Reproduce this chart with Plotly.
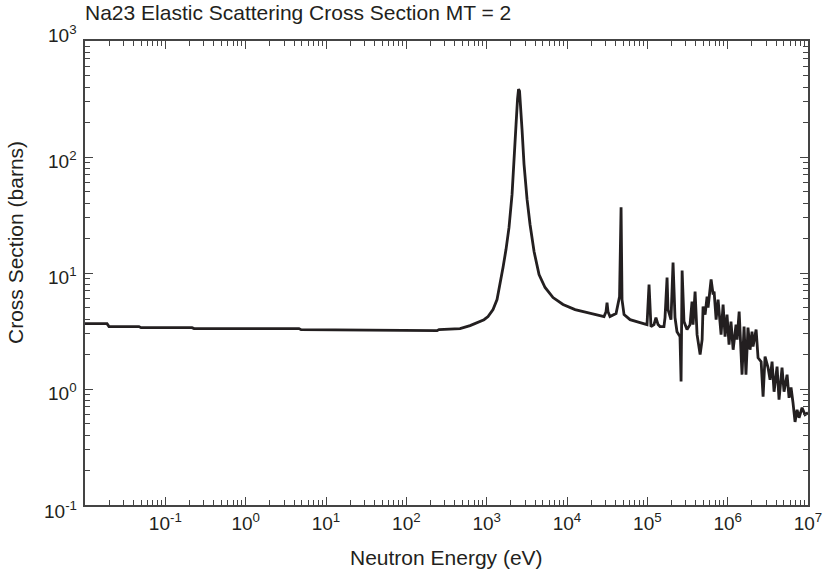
import math
import plotly.graph_objects as go

# Neutron energy (eV) and elastic cross section (barns)
energy_ev = [
    0.01, 0.0188, 0.0199, 0.047, 0.0498, 0.215, 0.2275, 4.61, 4.89, 83.4, 241, 255,
    466, 621, 759, 927, 1040, 1200, 1346, 1466, 1600, 1742, 1898, 2070, 2192, 2322,
    2422, 2494, 2566, 2642, 2755, 2918, 3184, 3467, 3890, 4487, 5333, 6700, 8925,
    12600, 19360, 28900, 30600, 31500, 32400, 34300, 40800, 43200, 45100, 47100,
    48400, 51300, 61000, 81200, 99100, 105000, 111000, 121000, 128000, 136000,
    144000, 161000, 166000, 176000, 181000, 197000, 209000, 221000, 234000, 255000,
    263000, 271000, 286000, 312000, 340000, 360000, 371000, 393000, 416000, 454000,
    481000, 494000, 524000, 554000, 570000, 622000, 659000, 678000, 718000, 760000,
    828000, 877000, 928000, 982000, 1.04e6, 1.10e6, 1.17e6, 1.27e6, 1.31e6, 1.39e6,
    1.47e6, 1.51e6, 1.60e6, 1.69e6, 1.79e6, 1.90e6, 2.01e6, 2.07e6, 2.26e6, 2.39e6,
    2.61e6, 2.76e6, 2.92e6, 3.18e6, 3.37e6, 3.57e6, 3.78e6, 4.12e6, 4.36e6, 4.75e6,
    5.03e6, 5.49e6, 5.81e6, 6.15e6, 6.51e6, 6.90e6, 7.31e6, 7.74e6, 8.44e6, 9.19e6,
    1.0e7,
]
cross_section_b = [
    3.66, 3.66, 3.45, 3.45, 3.38, 3.38, 3.32, 3.32, 3.25, 3.18, 3.18, 3.25,
    3.32, 3.52, 3.74, 3.96, 4.21, 4.84, 5.90, 7.96, 11.2, 16.0, 24.7, 47.6, 86.5, 192,
    316, 385, 370, 286, 174, 86.5, 43.1, 26.2, 15.3, 9.70, 7.50, 6.14, 5.35,
    4.84, 4.47, 4.21, 4.64, 5.56, 4.64, 4.21, 4.47, 5.35, 6.26, 36.8,
    5.90, 4.38, 3.96, 3.74, 3.59, 7.96, 3.45, 3.59, 4.13, 3.59,
    3.45, 3.45, 4.13, 9.14, 4.84, 3.96, 12.3, 4.13, 3.12, 2.83,
    1.16, 10.5, 3.81, 3.25, 3.59, 5.67, 3.59, 6.92, 2.94, 1.98,
    2.66, 5.14, 4.38, 6.26, 5.04, 8.79, 6.52, 6.92, 3.96, 5.90,
    2.94, 5.35, 2.83, 4.38, 2.41, 3.81, 2.18, 3.59, 2.66, 4.64,
    2.18, 1.33, 3.45, 1.33, 3.38, 2.18, 3.12, 2.32, 3.25, 1.86,
    1.72, 0.857, 1.90, 1.53, 1.20, 1.72, 0.947, 1.56, 0.808, 1.53,
    0.947, 1.33, 0.84, 1.03, 0.76, 0.52, 0.662, 0.565, 0.689, 0.60,
    0.624,
]

x_major_vals = [1e-1, 1e0, 1e1, 1e2, 1e3, 1e4, 1e5, 1e6, 1e7]
x_major_text = ["10<sup>-1</sup>", "10<sup>0</sup>", "10<sup>1</sup>", "10<sup>2</sup>",
                "10<sup>3</sup>", "10<sup>4</sup>", "10<sup>5</sup>", "10<sup>6</sup>",
                "10<sup>7</sup>"]
y_major_vals = [1e-1, 1e0, 1e1, 1e2, 1e3]
y_major_text = ["10<sup>-1</sup>", "10<sup>0</sup>", "10<sup>1</sup>", "10<sup>2</sup>",
                "10<sup>3</sup>"]
x_decades = [-2, -1, 0, 1, 2, 3, 4, 5, 6]
y_decades = [-1, 0, 1, 2]
minor_mult = [2, 3, 4, 5, 6, 7, 8, 9]

title_text = "Na23 Elastic Scattering Cross Section MT = 2"
x_title = "Neutron Energy (eV)"
y_title = "Cross Section (barns)"

# small vertical nudges (px) of the y tick labels, as in the reference
y_label_nudge = [-5, -3, -3, -3, 7]

x_minor = [m * 10.0 ** d for d in x_decades for m in minor_mult]
y_minor = [m * 10.0 ** d for d in y_decades for m in minor_mult]

ink = "#231f20"
axis_col = "#444444"
font_family = "Liberation Sans, Arial, Helvetica, sans-serif"

fig = go.Figure()
fig.add_trace(go.Scatter(
    x=energy_ev, y=cross_section_b, mode="lines",
    line=dict(color=ink, width=2.8), showlegend=False, hoverinfo="skip",
))

axis_common = dict(
    type="log", showgrid=False, zeroline=False, automargin=False,
    showline=True, linecolor=axis_col, linewidth=1.5, mirror="ticks",
    ticks="inside", ticklen=8, tickwidth=1.2, tickcolor=axis_col,
    ticklabeloverflow="allow",
    tickfont=dict(family=font_family, size=19, color=ink),
)

annotations = [
    dict(text=x_title, xref="paper", yref="paper", x=0.5, y=0,
         xanchor="center", yanchor="top", yshift=-39, showarrow=False,
         font=dict(family=font_family, size=21, color=ink)),
    dict(text=y_title, xref="paper", yref="paper", x=0, y=262 / 464,
         xanchor="center", yanchor="middle", xshift=-69, textangle=-90,
         showarrow=False,
         font=dict(family=font_family, size=21, color=ink)),
]
for val, txt, nudge in zip(y_major_vals, y_major_text, y_label_nudge):
    annotations.append(dict(
        text=txt, xref="paper", yref="y", x=0, y=math.log10(val),
        xanchor="right", yanchor="middle", xshift=-6, yshift=nudge,
        showarrow=False, font=dict(family=font_family, size=19, color=ink)))

fig.update_layout(
    width=823, height=573,
    margin=dict(l=85, r=15, t=41, b=68, autoexpand=False),
    paper_bgcolor="white", plot_bgcolor="white",
    font=dict(family=font_family, color=ink),
    title=dict(text=title_text,
               x=0, xanchor="left", xref="paper",
               y=1 - 5 / 573, yanchor="top", yref="container",
               pad=dict(l=0, t=0, r=0, b=0),
               font=dict(family=font_family, size=21, color=ink)),
    xaxis=dict(
        **axis_common,
        range=[-2, 7],
        tickmode="array", tickvals=x_major_vals, ticktext=x_major_text,
        ticklabelstandoff=0,
        minor=dict(tickmode="array", tickvals=x_minor, ticks="inside",
                   ticklen=5, tickwidth=1.2, tickcolor=axis_col, showgrid=False),
    ),
    yaxis=dict(
        **axis_common,
        range=[-1, 3],
        tickmode="array", tickvals=y_major_vals, ticktext=y_major_text,
        showticklabels=False,
        minor=dict(tickmode="array", tickvals=y_minor, ticks="inside",
                   ticklen=5, tickwidth=1.2, tickcolor=axis_col, showgrid=False),
    ),
    annotations=annotations,
)

fig.write_html("out.html", config={"displayModeBar": False},
               post_script="document.body.style.margin='0px';")
